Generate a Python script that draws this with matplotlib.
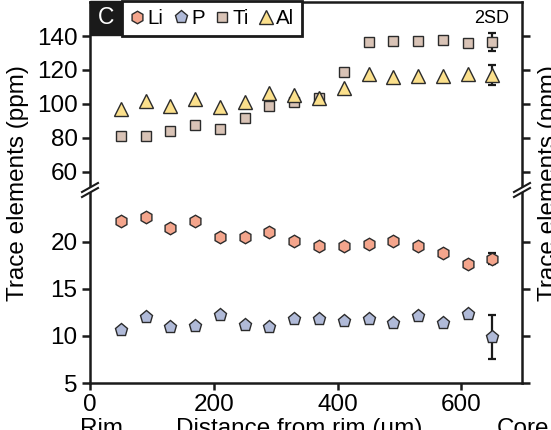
"""
Rim-to-core trace element profile (Li, P, Ti, Al) with a broken y axis.
"""
import matplotlib
matplotlib.use("Agg")
import matplotlib.pyplot as plt
from matplotlib.patches import Polygon, Rectangle
from matplotlib.lines import Line2D

plt.rcParams['font.family'] = ['Liberation Sans', 'DejaVu Sans']

# distance from rim (um)
distance = [50, 90, 130, 170, 210, 250, 290, 330, 370, 410, 450, 490, 530, 570, 610, 650]

# ppm
li = [22.2, 22.6, 21.5, 22.2, 20.5, 20.5, 21.0, 20.1, 19.6, 19.6, 19.8, 20.1, 19.5, 18.8, 17.6, 18.2]
p = [10.6, 12.0, 10.9, 11.05, 12.25, 11.2, 10.9, 11.8, 11.8, 11.6, 11.85, 11.4, 12.1, 11.35, 12.3, 9.9]
ti = [81.4, 81.2, 84.3, 87.4, 85.0, 91.6, 99.0, 101.2, 103.5, 119.0, 136.6, 137.2, 136.9, 137.5, 135.7, 136.3]
al = [97.0, 101.8, 98.8, 103.0, 98.0, 101.4, 106.3, 105.5, 103.5, 109.4, 117.6, 116.0, 116.5, 116.5, 117.6, 117.0]

# 2SD on the innermost spot
li_2sd = 0.6
p_2sd = 2.35
ti_2sd = 5.2
al_2sd = 6.0

W, H = 551, 430
fig = plt.figure(figsize=(W / 100, H / 100), dpi=100)

x0, x1 = 90 / W, 522 / W
y_brk = 1 - 190 / H
y_bot = 1 - 383 / H
y_top = 1 - 1.5 / H
ax_top = fig.add_axes([x0, y_brk, x1 - x0, y_top - y_brk])
ax_bot = fig.add_axes([x0, y_bot, x1 - x0, y_brk - y_bot])

edge = '#2b2b2b'
style = dict(ls='none', mec=edge, mew=1.0, zorder=3)
err = dict(fmt='none', ecolor='#1a1a1a', elinewidth=1.6, capsize=3, capthick=1.6, zorder=2)

h_li, = ax_bot.plot(distance, li, marker='h', ms=9, mfc='#f4a58c', label='Li', **style)
h_p, = ax_bot.plot(distance, p, marker='p', ms=9.5, mfc='#b0bad8', label='P', **style)
h_ti, = ax_top.plot(distance, ti, marker='s', ms=7.5, mfc='#d9c3b6', label='Ti', **style)
h_al, = ax_top.plot(distance, al, marker='^', ms=9.5, mfc='#fbe08c', label='Al', **style)

ax_bot.errorbar(distance[-1:], li[-1:], yerr=li_2sd, **err)
ax_bot.errorbar(distance[-1:], p[-1:], yerr=p_2sd, **err)
ax_top.errorbar(distance[-1:], ti[-1:], yerr=ti_2sd, **err)
ax_top.errorbar(distance[-1:], al[-1:], yerr=al_2sd, **err)

for ax in (ax_top, ax_bot):
    ax.set_xlim(0, 698)
    for s in ax.spines.values():
        s.set_linewidth(1.8)
        s.set_color('#1a1a1a')
    ax.tick_params(axis='y', which='both', left=True, right=True, direction='out',
                   length=5.5, width=1.8, labelsize=17.5, pad=3.5, color='#1a1a1a')

ax_top.set_ylim(49.4, 160.3)
ax_top.set_yticks([60, 80, 100, 120, 140])
ax_top.spines['bottom'].set_visible(False)
ax_top.tick_params(axis='x', bottom=False, labelbottom=False)

ax_bot.set_ylim(5, 25.5)
ax_bot.set_yticks([5, 10, 15, 20])
ax_bot.spines['top'].set_visible(False)
ax_bot.set_xticks([0, 200, 400, 600])
ax_bot.tick_params(axis='x', direction='out', length=5, width=1.8, labelsize=17.5, pad=3,
                   color='#1a1a1a')

# panel tag and legend band
tag_w, tag_h = 32 / 432, 33 / 188.5
ax_top.add_patch(Rectangle((0, 1 - tag_h), tag_w, tag_h, transform=ax_top.transAxes,
                           fc='#1a1a1a', ec='#1a1a1a', clip_on=False, zorder=5))
ax_top.text(tag_w / 2, 1 - tag_h / 2, 'C', transform=ax_top.transAxes, color='white',
            fontsize=16.5, ha='center', va='center', zorder=6)
leg = ax_top.legend(handles=[h_li, h_p, h_ti, h_al], loc='upper left',
                    bbox_to_anchor=(tag_w, 1.0), ncol=4, fontsize=14.8,
                    handlelength=0.7, handletextpad=0.15, columnspacing=0.5,
                    borderpad=0.38, borderaxespad=0, fancybox=False, framealpha=1)
leg.get_frame().set_edgecolor('#1a1a1a')
leg.get_frame().set_linewidth(2.0)
leg.set_zorder(6)

ax_top.text(0.93, 0.912, '2SD', transform=ax_top.transAxes, fontsize=13,
            ha='center', va='center')


# axis break marks
def brk(xp, yp):
    pts = lambda xs, ys: [(x / W, 1 - y / H) for x, y in zip(xs, ys)]
    xa, xb = xp - 8, xp + 8
    low = (yp + 7, yp - 2)
    high = (yp + 2, yp - 7)
    fig.add_artist(Polygon(pts([xa, xb, xb, xa], [low[0], low[1], high[1], high[0]]),
                           closed=True, transform=fig.transFigure, fc='white', ec='none',
                           zorder=10))
    for a, b in (low, high):
        fig.add_artist(Line2D([xa / W, xb / W], [1 - a / H, 1 - b / H], color='#1a1a1a',
                              lw=1.5, transform=fig.transFigure, zorder=11))


brk(90, 190)
brk(522, 190)

# labels (bottom row and right-hand label are cropped in the source figure too)
fig.text(18 / W, 1 - 183 / H, 'Trace elements (ppm)', rotation=90, fontsize=17.5,
         ha='center', va='center')
fig.text(538 / W, 1 - 183 / H, 'Trace elements (ppm)', rotation=90, fontsize=17.5,
         ha='left', va='center')
base = 1 - 434.5 / H
fig.text(299 / W, base, 'Distance from rim (\u00b5m)', fontsize=17.5, ha='center', va='baseline')
fig.text(101 / W, base, 'Rim', fontsize=17.5, ha='center', va='baseline')
fig.text(523 / W, base, 'Core', fontsize=17.5, ha='center', va='baseline')

fig.savefig("out.png", dpi=100)
